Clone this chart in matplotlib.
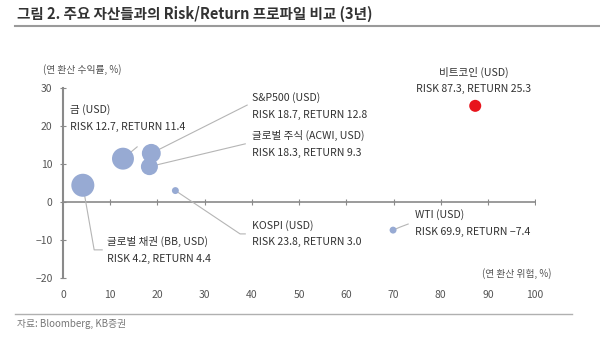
import matplotlib
matplotlib.use("Agg")
import matplotlib.pyplot as plt
from matplotlib.lines import Line2D

plt.rcParams["font.family"] = ["Noto Sans CJK KR", "DejaVu Sans"]

# asset risk / return (annualised, 3y)
assets = ["금 (USD)", "S&P500 (USD)", "글로벌 주식 (ACWI, USD)", "글로벌 채권 (BB, USD)",
          "KOSPI (USD)", "WTI (USD)", "비트코인 (USD)"]
risk = [12.7, 18.7, 18.3, 4.2, 23.8, 69.9, 87.3]
ret = [11.4, 12.8, 9.3, 4.4, 3.0, -7.4, 25.3]

x_ticks = list(range(0, 101, 10))
y_ticks = [-20, -10, 0, 10, 20, 30]

# styling / layout (not data)
bubble_area = [250, 185, 150, 275, 25, 25, 75]
bubble_color = ["#97AAD3"] * 6 + ["#E8141C"]
# label anchor (x, y of first line), alignment
label_pos = [(1.5, 24.2, "left"), (40.0, 27.4, "left"), (40.0, 17.4, "left"),
             (9.3, -10.5, "left"), (40.0, -6.1, "left"), (74.6, -3.4, "left"),
             (86.9, 34.2, "center")]
# leader line bend points (after the point itself)
leaders = [[(15.7, 14.5)], [(39.0, 25.5)], [(38.6, 15.3)],
           [(6.6, -12.6), (8.3, -12.6)], [(37.5, -8.4), (38.6, -8.4)],
           [(71.4, -6.6), (73.1, -5.8)], []]

fig = plt.figure(figsize=(6.0, 3.64), dpi=100)
ax = fig.add_axes([0.105, 0.2363, 0.787, 0.522])

ax.set_xlim(0, 100)
ax.set_ylim(-20, 30)

axis_col = "#8a8a8a"
for s in ["top", "right", "bottom"]:
    ax.spines[s].set_visible(False)
ax.spines["left"].set_color(axis_col)
ax.spines["left"].set_linewidth(1.5)
ax.axhline(0, color=axis_col, lw=1.2, zorder=1)
ax.plot(x_ticks[1:], [0] * (len(x_ticks) - 1), ls="none", marker="|",
        ms=4, mew=0.8, color=axis_col, zorder=1)

ax.set_xticks(x_ticks)
ax.set_yticks(y_ticks)
ax.tick_params(axis="x", length=0, pad=9, labelsize=7.5, labelcolor="#555555")
ax.tick_params(axis="y", direction="inout", length=5, width=0.8, color=axis_col,
               pad=5, labelsize=7.5, labelcolor="#555555")

line_col = "#b5b5b5"
for xi, yi, pts in zip(risk, ret, leaders):
    if pts:
        xs = [xi] + [p[0] for p in pts]
        ys = [yi] + [p[1] for p in pts]
        ax.plot(xs, ys, color=line_col, lw=0.8, zorder=2)

ax.scatter(risk, ret, s=bubble_area, c=bubble_color, edgecolors="none", zorder=3)

for name, r, v, (lx, ly, ha) in zip(assets, risk, ret, label_pos):
    ax.text(lx, ly, name, fontsize=7.6, color="#333333", ha=ha, va="center")
    ax.text(lx, ly - 4.4, f"RISK {r:.1f}, RETURN {v:.1f}".replace("-", "\u2212"),
            fontsize=7.6, color="#333333", ha=ha, va="center")

fig.text(43 / 600, 1 - 70 / 364, "(연 환산 수익률, %)", fontsize=7,
         color="#555555", ha="left", va="center")
fig.text(552 / 600, 1 - 274 / 364, "(연 환산 위험, %)", fontsize=7,
         color="#555555", ha="right", va="center")

fig.text(17 / 600, 1 - 14 / 364, "그림 2. 주요 자산들과의 Risk/Return 프로파일 비교 (3년)",
         fontsize=10.5, fontweight="bold", color="#333333", ha="left", va="center")
fig.add_artist(Line2D([15 / 600, 1.0], [1 - 26 / 364] * 2, color="#9a9a9a", lw=1.5))
fig.add_artist(Line2D([15 / 600, 572 / 600], [1 - 314 / 364] * 2, color="#b0b0b0", lw=1.0))
fig.text(17 / 600, 1 - 324 / 364, "자료: Bloomberg, KB증권", fontsize=7,
         color="#777777", ha="left", va="center")

fig.savefig("out.png", dpi=100)
